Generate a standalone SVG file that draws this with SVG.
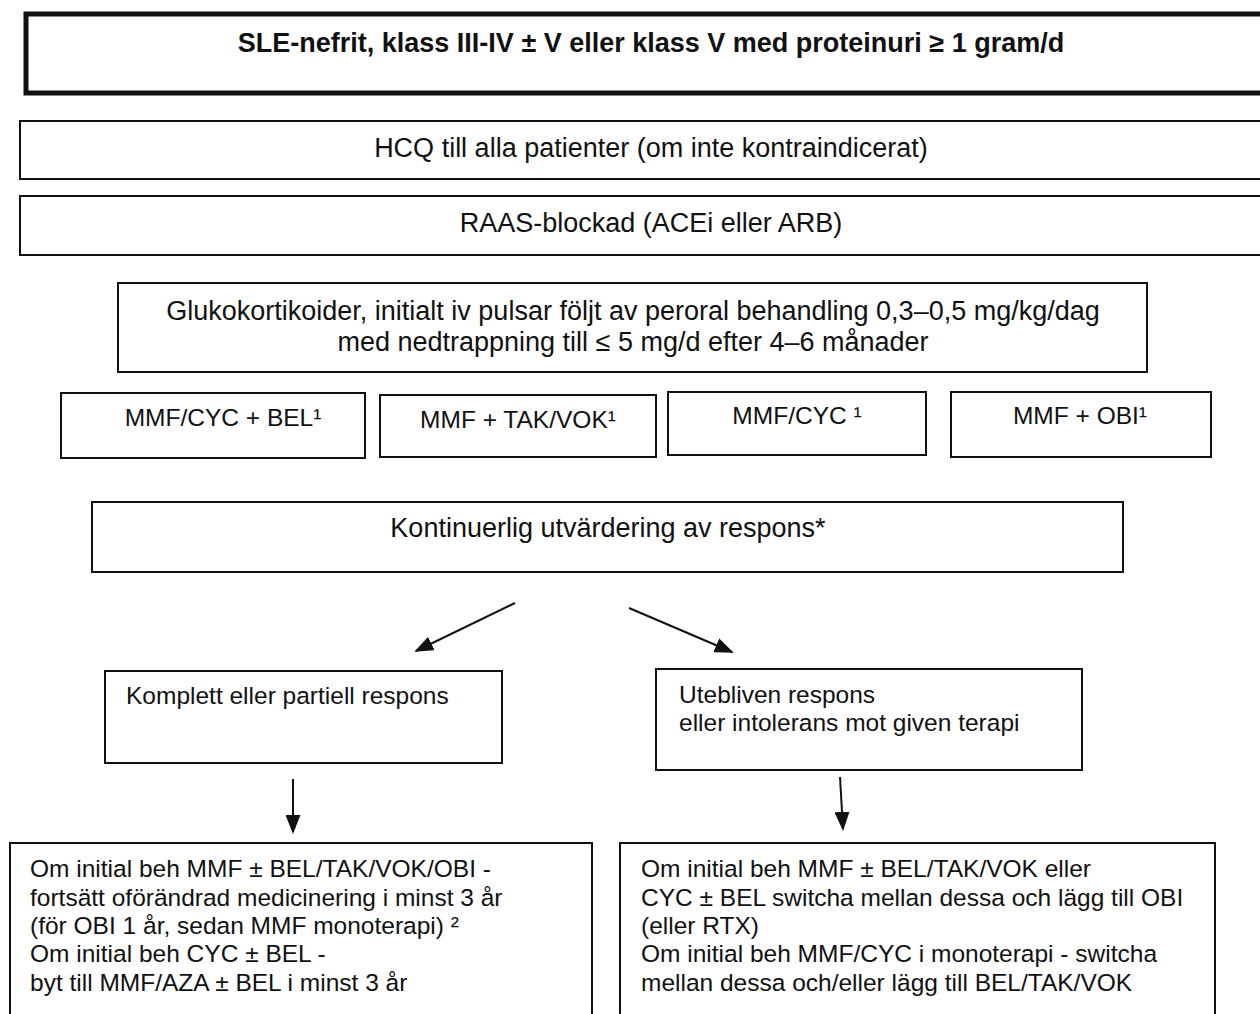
<svg xmlns="http://www.w3.org/2000/svg" width="1260" height="1014" viewBox="0 0 1260 1014">
  <style>
    .box { fill: #fff; stroke: #111; stroke-width: 2; }
    .t { font-family: "Liberation Sans", Arial, sans-serif; fill: #111; }
    .c { text-anchor: middle; }
    .title { font-weight: bold; font-size: 27px; }
    .big { font-size: 27px; }
    .mid { font-size: 24.5px; }
    .sm { font-size: 24.5px; }
    .conn { stroke: #111; stroke-width: 2; fill: none; }
  </style>
  <defs>
    <!-- solid triangular arrowhead shared by all connectors -->
    <marker id="arr" viewBox="0 0 10 10" refX="9" refY="5" markerWidth="19" markerHeight="15" markerUnits="userSpaceOnUse" orient="auto" preserveAspectRatio="none">
      <path d="M0,0 L10,5 L0,10 z" fill="#111"/>
    </marker>
  </defs>
  <rect width="1260" height="1014" fill="#fff"/>

  <g id="n-sle">
    <rect x="26" y="14" width="1240" height="79" fill="#fff" stroke="#111" stroke-width="5"/>
    <text class="t c title" x="651" y="52">SLE-nefrit, klass III-IV ± V eller klass V med proteinuri ≥ 1 gram/d</text>
  </g>

  <g id="n-hcq">
    <rect class="box" x="20" y="121" width="1245" height="58"/>
    <text class="t c big" x="651" y="157">HCQ till alla patienter (om inte kontraindicerat)</text>
  </g>

  <g id="n-raas">
    <rect class="box" x="20" y="196" width="1245" height="59"/>
    <text class="t c big" x="651" y="232">RAAS-blockad (ACEi eller ARB)</text>
  </g>

  <g id="n-gluko">
    <rect class="box" x="118" y="283" width="1029" height="89"/>
    <text class="t c big" x="633" y="320">Glukokortikoider, initialt iv pulsar följt av peroral behandling 0,3–0,5 mg/kg/dag</text>
    <text class="t c big" x="633" y="351">med nedtrappning till ≤ 5 mg/d efter 4–6 månader</text>
  </g>

  <g id="n-mmf-bel">
    <rect class="box" x="61" y="393" width="304" height="65"/>
    <text class="t c sm" x="223" y="426">MMF/CYC + BEL¹</text>
  </g>
  <g id="n-mmf-tak">
    <rect class="box" x="380" y="395" width="276" height="62"/>
    <text class="t c sm" x="518" y="428">MMF + TAK/VOK¹</text>
  </g>
  <g id="n-mmf-cyc">
    <rect class="box" x="668" y="392" width="258" height="63"/>
    <text class="t c sm" x="797" y="424">MMF/CYC ¹</text>
  </g>
  <g id="n-mmf-obi">
    <rect class="box" x="951" y="392" width="260" height="65"/>
    <text class="t c sm" x="1080" y="424">MMF + OBI¹</text>
  </g>

  <g id="n-eval">
    <rect class="box" x="92" y="502" width="1031" height="70"/>
    <text class="t c big" x="608" y="537">Kontinuerlig utvärdering av respons*</text>
  </g>

  <g id="n-komplett">
    <rect class="box" x="105" y="671" width="397" height="92"/>
    <text class="t mid" x="126" y="704">Komplett eller partiell respons</text>
  </g>

  <g id="n-utebliven">
    <rect class="box" x="656" y="669" width="426" height="101"/>
    <text class="t mid" x="679" y="703">Utebliven respons</text>
    <text class="t mid" x="679" y="731">eller intolerans mot given terapi</text>
  </g>

  <g id="n-fortsatt">
    <rect class="box" x="10" y="843" width="582" height="180"/>
    <text class="t sm" x="30" y="877">Om initial beh MMF ± BEL/TAK/VOK/OBI -</text>
    <text class="t sm" x="30" y="906">fortsätt oförändrad medicinering i minst 3 år</text>
    <text class="t sm" x="30" y="934">(för OBI 1 år, sedan MMF monoterapi) ²</text>
    <text class="t sm" x="30" y="962">Om initial beh CYC ± BEL -</text>
    <text class="t sm" x="30" y="991">byt till MMF/AZA ± BEL i minst 3 år</text>
  </g>

  <g id="n-switcha">
    <rect class="box" x="620" y="843" width="595" height="180"/>
    <text class="t sm" x="641" y="877">Om initial beh MMF ± BEL/TAK/VOK eller</text>
    <text class="t sm" x="641" y="906">CYC ± BEL switcha mellan dessa och lägg till OBI</text>
    <text class="t sm" x="641" y="934">(eller RTX)</text>
    <text class="t sm" x="641" y="962">Om initial beh MMF/CYC i monoterapi - switcha</text>
    <text class="t sm" x="641" y="991">mellan dessa och/eller lägg till BEL/TAK/VOK</text>
  </g>

  <g id="connectors">
    <line class="conn" x1="515" y1="603" x2="416" y2="651" marker-end="url(#arr)"/>
    <line class="conn" x1="629" y1="608" x2="732" y2="652" marker-end="url(#arr)"/>
    <line class="conn" x1="293" y1="779" x2="293" y2="832" marker-end="url(#arr)"/>
    <line class="conn" x1="840" y1="777" x2="843" y2="829" marker-end="url(#arr)"/>
  </g>
</svg>
